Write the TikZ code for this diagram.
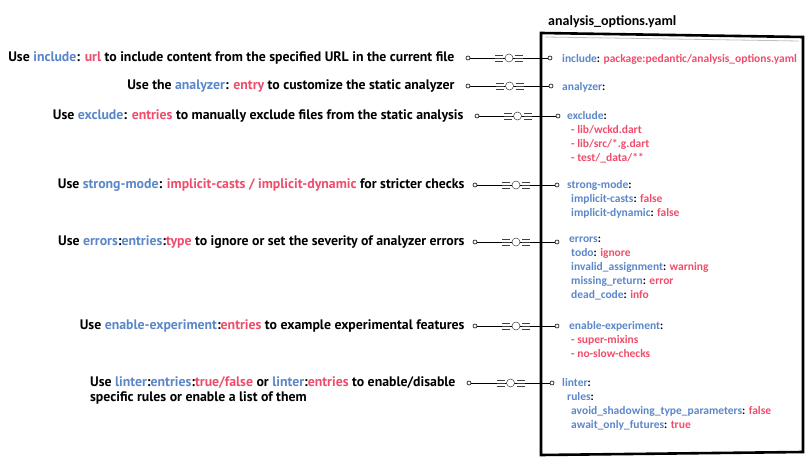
\documentclass[tikz,border=0pt]{standalone}
\usepackage{fontspec}
\usepackage{xcolor}
\usetikzlibrary{positioning,decorations.markings}
\setmainfont{PT Sans}
\newfontfamily\ymlfont{Carlito}
\definecolor{blu}{HTML}{5B87C9}
\definecolor{rd}{HTML}{EF4D6B}
\newcommand\ky[1]{\textcolor{blu}{#1}}
\newcommand\vl[1]{\textcolor{rd}{#1}}
\newcommand\colo{\textcolor{black}{:}}
\tikzset{
  desc/.style={font=\fontsize{13.8}{15.5}\selectfont\bfseries,inner sep=0pt,align=left},
  yml/.style={font=\ymlfont\fontsize{11.5}{14}\selectfont\bfseries,inner sep=0pt,align=left,blu,
    anchor=north west,execute at begin node={\rule{0pt}{9pt}}},
  dot/.style={circle,draw,fill=white,inner sep=0pt,minimum size=4pt,line width=0.6pt},
  link/.style={line width=0.7pt,postaction={decorate,decoration={markings,
    mark=at position 0.5 with {
      \draw[black!75,line width=0.5pt]
        (-14pt,-3pt)--(-6pt,-3pt) (-14pt,0pt)--(-6pt,0pt) (-14pt,3pt)--(-6pt,3pt)
        (6pt,-3pt)--(14pt,-3pt) (6pt,0pt)--(14pt,0pt) (6pt,3pt)--(14pt,3pt);
      \draw[black!75,line width=0.5pt,fill=white] (0pt,0pt) circle (4pt);}}}}
}
\begin{document}
\begin{tikzpicture}[x=1pt,y=-1pt]
\useasboundingbox (0,0) rectangle (810,462);
% yaml file
\node[font=\ymlfont\fontsize{14}{16}\selectfont\bfseries,anchor=west,inner sep=0pt] (title) at (548,22) {analysis\_options.yaml};
\draw[line width=2.6pt] (541,33) -- (803,37) -- (803,452) -- (541,455) -- cycle;
\draw[black!25,line width=0.8pt] (545,37) -- (799,41);
% dots
\node[dot] (incl) at (468,58) {};   \node[dot] (incr) at (550,58) {};
\node[dot] (anal) at (468,86) {};   \node[dot] (anar) at (551,86) {};
\node[dot] (excl) at (477,116) {};  \node[dot] (excr) at (558,116) {};
\node[dot] (strl) at (475,185) {};  \node[dot] (strr) at (557,185) {};
\node[dot] (errl) at (475,242) {};  \node[dot] (errr) at (557,242) {};
\node[dot] (expl) at (475,326) {};  \node[dot] (expr) at (557,326) {};
\node[dot] (lintl) at (469,383) {}; \node[dot] (lintr) at (552,383) {};
% descriptions
\node[desc,left=11pt of incl] (inc) {Use \ky{include}: \vl{url} to include content from the specified URL in the current file};
\node[desc,left=11pt of anal] (ana) {Use the \ky{analyzer}: \vl{entry} to customize the static analyzer};
\node[desc,left=11pt of excl] (exc) {Use \ky{exclude}: \vl{entries} to manually exclude files from the static analysis};
\node[desc,left=8pt of strl] (str) {Use \ky{strong-mode}: \vl{implicit-casts / implicit-dynamic} for stricter checks};
\node[desc,left=8pt of errl] (err) {Use \ky{errors}:\ky{entries}:\vl{type} to ignore or set the severity of analyzer errors};
\node[desc,left=8pt of expl] (exp) {Use \ky{enable-experiment}:\vl{entries} to example experimental features};
\node[desc,left=11pt of lintl,anchor=north east,yshift=7pt] (lint) {Use \ky{linter}:\ky{entries}:\vl{true/false} or \ky{linter}:\vl{entries} to enable/disable\\specific rules or enable a list of them};
% yaml entries (top of first line 5pt above the link)
\node[yml] (incy) at (562,53) {include\colo{} \vl{package:pedantic/analysis\_options.yaml}};
\node[yml] (anay) at (562,81) {analyzer\colo};
\node[yml] (excy) at (567,111) {exclude\colo\\\hspace*{4pt}\vl{- lib/wckd.dart}\\\hspace*{4pt}\vl{- lib/src/*.g.dart}\\\hspace*{4pt}\vl{- test/\_data/**}};
\node[yml] (stry) at (567,180) {strong-mode\colo\\\hspace*{4pt}implicit-casts\colo{} \vl{false}\\\hspace*{4pt}implicit-dynamic\colo{} \vl{false}};
\node[yml] (erry) at (569,237) {errors\colo\\\hspace*{2pt}todo\colo{} \vl{ignore}\\\hspace*{2pt}invalid\_assignment\colo{} \vl{warning}\\\hspace*{2pt}missing\_return\colo{} \vl{error}\\\hspace*{2pt}dead\_code\colo{} \vl{info}};
\node[yml] (expy) at (569,321) {enable-experiment\colo\\\hspace*{2pt}\vl{- super-mixins}\\\hspace*{2pt}\vl{- no-slow-checks}};
\node[yml] (linty) at (562,378) {linter\colo\\\hspace*{5pt}rules\colo\\\hspace*{9pt}avoid\_shadowing\_type\_parameters\colo{} \vl{false}\\\hspace*{9pt}await\_only\_futures\colo{} \vl{true}};
% links
\draw[link] (incl) -- (incr);
\draw[link] (anal) -- (anar);
\draw[link] (excl) -- (excr);
\draw[link] (strl) -- (strr);
\draw[link] (errl) -- (errr);
\draw[link] (expl) -- (expr);
\draw[link] (lintl) -- (lintr);
\end{tikzpicture}
\end{document}
